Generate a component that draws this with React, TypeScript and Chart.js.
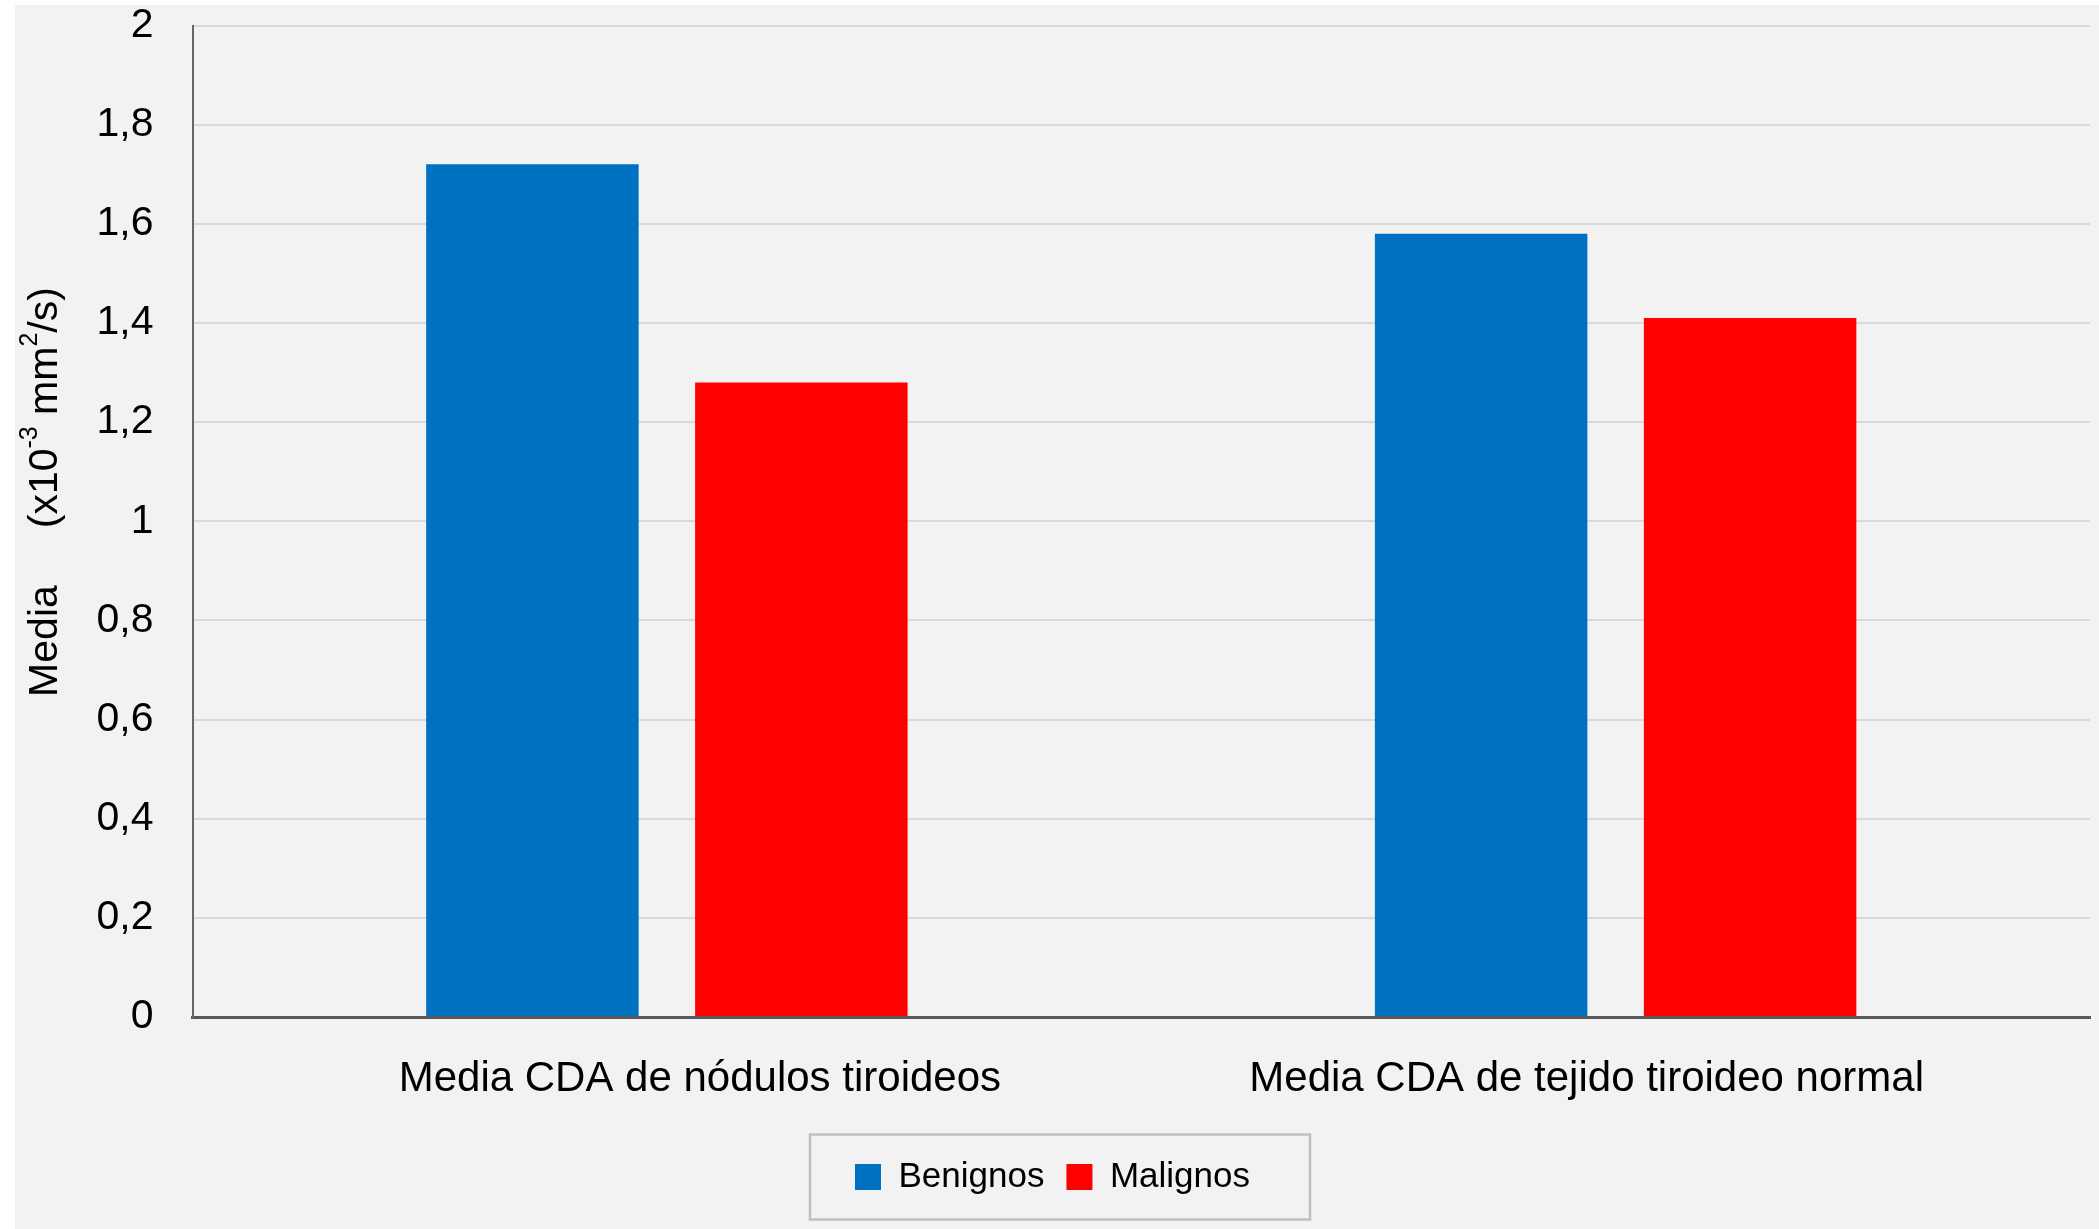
import { useEffect, useRef } from 'react'
import { Chart, registerables } from 'chart.js'

Chart.register(...registerables)

const CATEGORIES = ['Media CDA de nódulos tiroideos', 'Media CDA de tejido tiroideo normal']
const BENIGNOS = [1.72, 1.58]
const MALIGNOS = [1.28, 1.41]
const Y_TICKS = ['0', '0,2', '0,4', '0,6', '0,8', '1', '1,2', '1,4', '1,6', '1,8', '2']

const FONT = "'Liberation Sans', Arial, Helvetica, sans-serif"
// the source draws its category labels slightly off the group centres
const LABEL_SHIFT = [33, -29]

// y title with real superscripts, drawn rotated
const yTitle = {
  id: 'yTitle',
  afterDraw(chart: Chart) {
    const ctx = chart.ctx
    const parts: [string, boolean][] = [
      ['Media', false],
      ['     ', false],
      ['(x10', false],
      ['-3', true],
      [' mm', false],
      ['2', true],
      ['/s)', false],
    ]
    const big = `41px ${FONT}`
    const small = `25px ${FONT}`
    let total = 0
    for (const [t, sup] of parts) {
      ctx.font = sup ? small : big
      total += ctx.measureText(t).width
    }
    ctx.save()
    ctx.translate(42, 487)
    ctx.rotate(-Math.PI / 2)
    ctx.fillStyle = '#000'
    ctx.textBaseline = 'alphabetic'
    let x = -total / 2
    for (const [t, sup] of parts) {
      ctx.font = sup ? small : big
      ctx.fillText(t, x, sup ? -20 : 0)
      x += ctx.measureText(t).width
    }
    ctx.restore()
  },
}

// category labels under the x axis
const xLabels = {
  id: 'xLabels',
  afterDraw(chart: Chart) {
    const ctx = chart.ctx
    const xs = chart.scales.x
    ctx.save()
    ctx.font = `42px ${FONT}`
    ctx.fillStyle = '#000'
    ctx.textAlign = 'center'
    ctx.textBaseline = 'alphabetic'
    CATEGORIES.forEach((c, i) => {
      ctx.fillText(c, xs.getPixelForValue(i) + LABEL_SHIFT[i], chart.chartArea.bottom + 74)
    })
    ctx.restore()
  },
}

// grey frame around the legend items
const legendFrame = {
  id: 'legendFrame',
  afterDraw(chart: Chart) {
    const boxes = (chart.legend as any)?.legendHitBoxes as { left: number; top: number; width: number; height: number }[]
    if (!boxes || !boxes.length) return
    const left = Math.min(...boxes.map((b) => b.left)) - 45
    const right = Math.max(...boxes.map((b) => b.left + b.width)) + 60
    const cy = boxes[0].top + boxes[0].height / 2
    const ctx = chart.ctx
    ctx.save()
    ctx.strokeStyle = '#bfbfbf'
    ctx.lineWidth = 2.5
    ctx.strokeRect(left, cy - 42.5, right - left, 85)
    ctx.restore()
  },
}

export default function App() {
  const ref = useRef<HTMLCanvasElement>(null)

  useEffect(() => {
    if (!ref.current) return
    const chart = new Chart(ref.current, {
      type: 'bar',
      data: {
        labels: CATEGORIES,
        datasets: [
          { label: 'Benignos', data: BENIGNOS, backgroundColor: '#0070c0', borderWidth: 0 },
          { label: 'Malignos', data: MALIGNOS, backgroundColor: '#ff0000', borderWidth: 0 },
        ],
      },
      options: {
        animation: false,
        responsive: true,
        maintainAspectRatio: false,
        datasets: { bar: { barPercentage: 0.79, categoryPercentage: 0.567 } },
        layout: { padding: { left: 0, right: 9, top: 20, bottom: 24.5 } },
        plugins: {
          tooltip: { enabled: false },
          legend: {
            position: 'bottom',
            labels: {
              boxWidth: 26,
              boxHeight: 26,
              padding: 22,
              color: '#000',
              font: { family: FONT, size: 35 },
            },
          },
        },
        scales: {
          x: {
            grid: { display: false },
            border: { display: true, color: '#595959', width: 3 },
            ticks: { display: false },
            afterFit: (s: any) => {
              s.height = 120.5
            },
          },
          y: {
            min: 0,
            max: 2,
            grid: { color: '#d9d9d9', lineWidth: 2, drawTicks: true, tickLength: 39, tickColor: 'rgba(0,0,0,0)' },
            border: { display: true, color: '#666666', width: 2 },
            ticks: {
              stepSize: 0.2,
              color: '#000',
              padding: 0,
              font: { family: FONT, size: 41, lineHeight: 1 },
              callback: (_v: any, i: number) => Y_TICKS[i],
            },
            afterFit: (s: any) => {
              s.width = 177.5
            },
          },
        },
      },
      plugins: [yTitle, xLabels, legendFrame],
    })
    return () => chart.destroy()
  }, [])

  return (
    <div style={{ position: 'fixed', left: 0, top: 0, width: 2099, height: 1229, background: '#fff' }}>
      <div style={{ position: 'absolute', left: 15, top: 5, width: 2084, height: 1224, background: '#f2f2f2' }}>
        <canvas ref={ref} role="img" aria-label="Media CDA benignos y malignos" />
      </div>
    </div>
  )
}
